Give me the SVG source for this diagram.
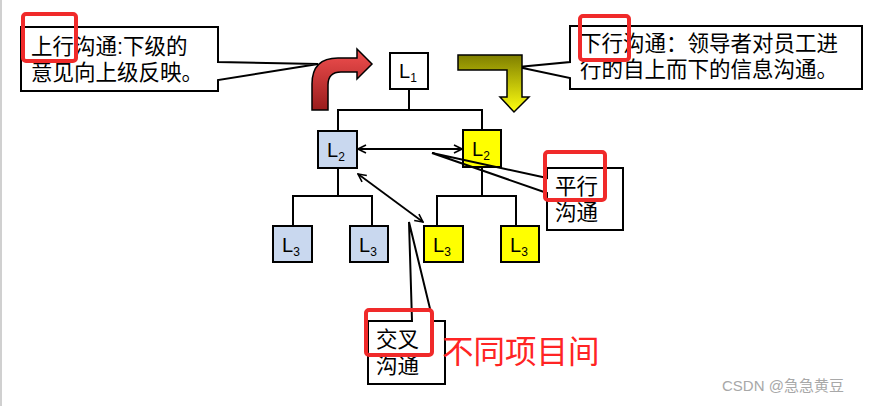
<svg xmlns="http://www.w3.org/2000/svg" width="873" height="406" viewBox="0 0 873 406">
<style>
.cj{font-family:"Liberation Sans","Noto Sans CJK SC",sans-serif;font-size:21.5px;fill:#000}
.box{fill:#fff;stroke:none}
.out{fill:none;stroke:#000;stroke-width:2;stroke-linejoin:miter}
.hl{fill:none;stroke:#f02a2a;stroke-width:4}
.nd{stroke:#000;stroke-width:2}
.lb{font-family:"Liberation Sans",Arial,sans-serif;font-size:20px;fill:#000}
.ln{fill:none;stroke:#000;stroke-width:2}
.dbl{fill:none;stroke:#000;stroke-width:1.8;marker-start:url(#ah);marker-end:url(#ah)}
</style>
<defs>
<marker id="ah" viewBox="0 0 10 10" refX="9" refY="5" markerWidth="10" markerHeight="10" markerUnits="userSpaceOnUse" orient="auto-start-reverse">
<path d="M1,1 L9,5 L1,9" fill="none" stroke="#000" stroke-width="1.6"/>
</marker>
<linearGradient id="gr" x1="0" y1="0" x2="0" y2="1">
<stop offset="0" stop-color="#f25050"/>
<stop offset="1" stop-color="#9a1c1c"/>
</linearGradient>
<linearGradient id="gy" x1="0" y1="0" x2="0" y2="1">
<stop offset="0" stop-color="#7f7f00"/>
<stop offset="1" stop-color="#ffff10"/>
</linearGradient>
</defs>
<rect x="0" y="0" width="873" height="406" fill="#fff"/>
<line x1="1" y1="0" x2="1" y2="406" stroke="#d0d0d0" stroke-width="2"/>

<g id="callout-up">
<rect class="box" x="21" y="27" width="197" height="64"/>
<path class="out" d="M21,27 L218,27 L218,62 L318,64 L218,80 L218,91 L21,91 Z"/>
<text class="cj"><tspan x="31" y="54">上行沟通:下级的</tspan><tspan x="31" y="80">意见向上级反映。</tspan></text>
<rect class="hl" x="23" y="14" width="53" height="47" rx="3"/>
</g>

<g id="callout-down">
<rect class="box" x="570" y="26" width="292" height="63"/>
<path class="out" d="M570,26 L862,26 L862,89 L570,89 L570,78 L518,67 L570,62 Z"/>
<text class="cj"><tspan x="580" y="51">下行沟通：领导者对员工进</tspan><tspan x="580" y="77">行的自上而下的信息沟通。</tspan></text>
<rect class="hl" x="580" y="16" width="49" height="44" rx="3"/>
</g>

<g id="arrow-up">
<path d="M312,110 L312,84 Q312,58 338,58 L357,58 L357,49 L372,64 L357,79 L357,72 L341,72 Q328,72 328,85 L328,110 Z" fill="url(#gr)" stroke="#000" stroke-width="1.5"/>
</g>
<g id="arrow-down">
<path d="M458,55 L522,55 L522,97 L529,97 L514,112 L500,97 L507,97 L507,70 L458,70 Z" fill="url(#gy)" stroke="#000" stroke-width="1.5"/>
</g>

<g id="connectors">
<polyline class="ln" points="409,89 409,110"/>
<polyline class="ln" points="338,131 338,110 482,110 482,130"/>
<polyline class="ln" points="338,168 338,196"/>
<polyline class="ln" points="293,226 293,196 372,196 372,226"/>
<polyline class="ln" points="482,167 482,196"/>
<polyline class="ln" points="437,226 437,196 516,196 516,226"/>
<line class="dbl" x1="358" y1="149" x2="462" y2="149"/>
<line class="dbl" x1="358" y1="174" x2="423" y2="222"/>
</g>

<g id="L1">
<rect class="nd" x="390" y="53" width="38" height="36" fill="#fff"/>
<text class="lb" x="399" y="78">L<tspan font-size="12" dy="4">1</tspan></text>
</g>
<g id="L2a">
<rect class="nd" x="318" y="131" width="39" height="37" fill="#c9d8ef"/>
<text class="lb" x="327" y="157">L<tspan font-size="12" dy="4">2</tspan></text>
</g>
<g id="L2b">
<rect class="nd" x="463" y="130" width="38" height="37" fill="#ffff00"/>
<text class="lb" x="472" y="156">L<tspan font-size="12" dy="4">2</tspan></text>
</g>
<g id="L3a">
<rect class="nd" x="273" y="226" width="39" height="36" fill="#c9d8ef"/>
<text class="lb" x="282" y="252">L<tspan font-size="12" dy="4">3</tspan></text>
</g>
<g id="L3b">
<rect class="nd" x="350" y="226" width="38" height="36" fill="#c9d8ef"/>
<text class="lb" x="359" y="252">L<tspan font-size="12" dy="4">3</tspan></text>
</g>
<g id="L3c">
<rect class="nd" x="424" y="226" width="39" height="36" fill="#ffff00"/>
<text class="lb" x="433" y="252">L<tspan font-size="12" dy="4">3</tspan></text>
</g>
<g id="L3d">
<rect class="nd" x="501" y="226" width="38" height="36" fill="#ffff00"/>
<text class="lb" x="510" y="252">L<tspan font-size="12" dy="4">3</tspan></text>
</g>

<g id="callout-parallel">
<rect class="box" x="547" y="168" width="76" height="62"/>
<path class="out" d="M547,168 L623,168 L623,230 L547,230 L547,193 L432,153 L547,178 Z"/>
<text class="cj"><tspan x="555" y="194">平行</tspan><tspan x="555" y="220">沟通</tspan></text>
<rect class="hl" x="545" y="152" width="60" height="48" rx="3"/>
</g>

<g id="callout-cross">
<rect class="box" x="368" y="321" width="77" height="63"/>
<path class="out" d="M368,321 L412,321 L409,222 L433,321 L445,321 L445,384 L368,384 Z"/>
<text class="cj"><tspan x="376" y="347">交叉</tspan><tspan x="376" y="373">沟通</tspan></text>
<rect class="hl" x="366" y="310" width="66" height="45" rx="3"/>
</g>

<text x="442" y="363" font-family="Liberation Sans, Noto Sans CJK SC, sans-serif" font-size="31.5" fill="#ff2424">不同项目间</text>
<text x="722" y="391" font-family="Liberation Sans, Noto Sans CJK SC, sans-serif" font-size="15" fill="#a8a8a8">CSDN @急急黄豆</text>
</svg>
